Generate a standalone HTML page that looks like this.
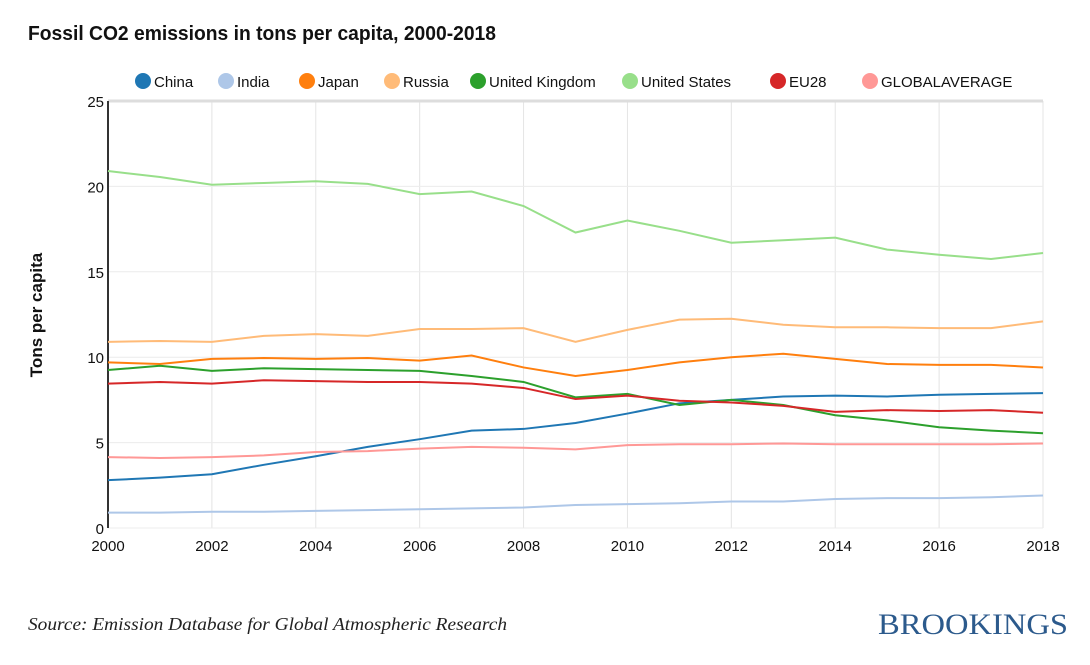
<!DOCTYPE html>
<html><head><meta charset="utf-8"><style>
body{margin:0;background:#fff;width:1090px;height:660px;overflow:hidden;font-family:"Liberation Sans",sans-serif}
</style></head><body>
<svg id="chart" width="1090" height="660" xmlns="http://www.w3.org/2000/svg">
<text x="28" y="40" font-family="Liberation Sans Narrow, Liberation Sans, sans-serif" font-weight="bold" font-size="20" fill="#111" textLength="468" lengthAdjust="spacingAndGlyphs">Fossil CO2 emissions in tons per capita, 2000-2018</text>
<text transform="translate(42,315) rotate(-90)" text-anchor="middle" font-weight="bold" font-size="17" fill="#111">Tons per capita</text>
<text x="28" y="630" font-family="Liberation Serif, serif" font-style="italic" font-size="18" fill="#222" textLength="479" lengthAdjust="spacingAndGlyphs">Source: Emission Database for Global Atmospheric Research</text>
<text x="1068" y="634" text-anchor="end" font-family="Liberation Serif, serif" font-size="30" fill="#2c5a8c" textLength="190" lengthAdjust="spacingAndGlyphs">BROOKINGS</text>
<g id="grid"></g><g id="axes"></g><g id="lines"></g><g id="legend"></g>
</svg>
<script>
const years=[2000,2001,2002,2003,2004,2005,2006,2007,2008,2009,2010,2011,2012,2013,2014,2015,2016,2017,2018];
const names=["China","India","Japan","Russia","United Kingdom","United States","EU28","GLOBALAVERAGE"];
const colors=["#1f77b4","#aec7e8","#ff7f0e","#ffbb78","#2ca02c","#98df8a","#d62728","#ff9896"];
const china=[2.8,2.95,3.15,3.7,4.2,4.75,5.2,5.7,5.8,6.15,6.7,7.3,7.5,7.7,7.75,7.7,7.8,7.85,7.9];
const india=[0.9,0.9,0.95,0.95,1.0,1.05,1.1,1.15,1.2,1.35,1.4,1.45,1.55,1.55,1.7,1.75,1.75,1.8,1.9];
const japan=[9.7,9.6,9.9,9.95,9.9,9.95,9.8,10.1,9.4,8.9,9.25,9.7,10.0,10.2,9.9,9.6,9.55,9.55,9.4];
const russia=[10.9,10.95,10.9,11.25,11.35,11.25,11.65,11.65,11.7,10.9,11.6,12.2,12.25,11.9,11.75,11.75,11.7,11.7,12.1];
const uk=[9.25,9.5,9.2,9.35,9.3,9.25,9.2,8.9,8.55,7.65,7.85,7.2,7.5,7.2,6.6,6.3,5.9,5.7,5.55];
const us=[20.9,20.55,20.1,20.2,20.3,20.15,19.55,19.7,18.85,17.3,18.0,17.4,16.7,16.85,17.0,16.3,16.0,15.75,16.1];
const eu=[8.45,8.55,8.45,8.65,8.6,8.55,8.55,8.45,8.2,7.55,7.75,7.45,7.35,7.15,6.8,6.9,6.85,6.9,6.75];
const glob=[4.15,4.1,4.15,4.25,4.45,4.5,4.65,4.75,4.7,4.6,4.85,4.9,4.9,4.95,4.9,4.9,4.9,4.9,4.95];
const series=[china,india,japan,russia,uk,us,eu,glob];
const xTicks=[2000,2002,2004,2006,2008,2010,2012,2014,2016,2018];
const yTicks=[0,5,10,15,20,25];
const X0=108,X1=1043,Y0=528,Y1=101;
const x=v=>X0+(v-2000)/18*(X1-X0);
const y=v=>Y0-v/25*(Y0-Y1);
const NS="http://www.w3.org/2000/svg";
function mk(tag,parent,attrs){const e=document.createElementNS(NS,tag);for(const k in attrs)e.setAttribute(k,attrs[k]);document.getElementById(parent).appendChild(e);return e;}
xTicks.forEach(t=>{
 const l=mk('line','grid',{x1:x(t),x2:x(t),y1:Y1,y2:Y0,stroke:'#e4e4e4','stroke-width':1});
 
 
 const tx=mk('text','axes',{x:x(t),y:Y0+23,'text-anchor':'middle','font-size':15,fill:'#111'});
 tx.textContent=t;
 
 
});
yTicks.forEach(t=>{
 const l=mk('line','grid',{x1:X0,x2:X1,y1:y(t),y2:y(t),stroke:t==25?'#ddd':'#ececec','stroke-width':t==25?3:1});
 
 
 const tx=mk('text','axes',{x:X0-4,y:y(t)+6,'text-anchor':'end','font-size':15,fill:'#111'});
 tx.textContent=t;
 
 
});
const ya=mk('line','axes',{x1:X0,x2:X0,y1:Y1,y2:Y0,stroke:'#333','stroke-width':2});


series.forEach((s,i)=>{
 const p=mk('polyline','lines',{points:s.map((v,j)=>x(years[j])+','+y(v)).join(' '),fill:'none',stroke:colors[i],'stroke-width':2});
 
 
});
const legX=[135,218,299,384,470,622,770,862];
names.forEach((n,i)=>{
 const c=mk('circle','legend',{cx:legX[i]+8,cy:81,r:8,fill:colors[i]});
 
 
 const t=mk('text','legend',{x:legX[i]+19,y:87,'font-size':15,fill:'#111'});
 t.textContent=n;
 
 
});
</script>
</body></html>
